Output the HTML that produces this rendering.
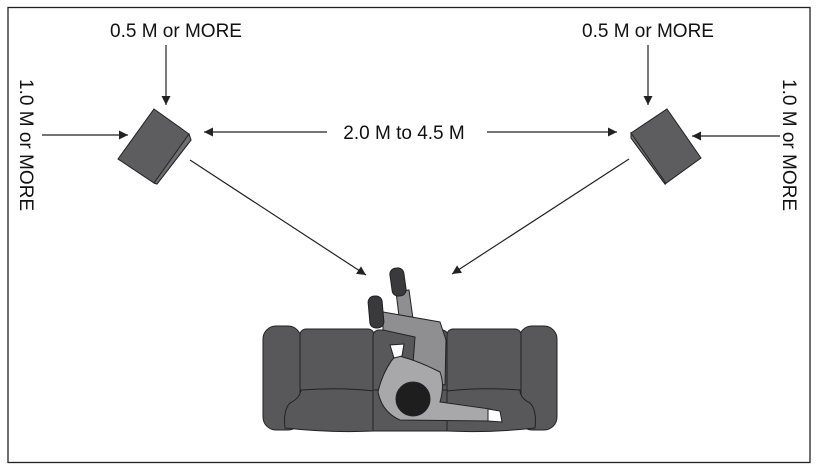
<!DOCTYPE html>
<html><head><meta charset="utf-8"><style>
html,body{margin:0;padding:0;background:#fff;}
svg{display:block;}
text{font-family:"Liberation Sans",sans-serif;font-size:19px;fill:#111;}
</style></head><body>
<svg width="817" height="473" viewBox="0 0 817 473" xmlns="http://www.w3.org/2000/svg">
<defs>
<marker id="ah" viewBox="0 0 10 10" refX="10" refY="5" markerWidth="9" markerHeight="9" markerUnits="userSpaceOnUse" orient="auto">
<path d="M0,0 L10,5 L0,10 z" fill="#222"/></marker>
</defs>
<rect x="8" y="7.5" width="802" height="455" fill="none" stroke="#222" stroke-width="1.3"/>
<text x="176" y="37" text-anchor="middle">0.5 M or MORE</text>
<text x="648" y="37" text-anchor="middle">0.5 M or MORE</text>
<text x="404" y="139" text-anchor="middle">2.0 M to 4.5 M</text>
<text transform="translate(20,145) rotate(90)" text-anchor="middle">1.0 M or MORE</text>
<text transform="translate(783,145) rotate(90)" text-anchor="middle">1.0 M or MORE</text>
<g stroke="#222" stroke-width="1.2" fill="none">
<line x1="166" y1="45" x2="166" y2="105" marker-end="url(#ah)"/>
<line x1="648" y1="45" x2="648" y2="105" marker-end="url(#ah)"/>
<line x1="42" y1="135" x2="128" y2="135" marker-end="url(#ah)"/>
<line x1="780" y1="136" x2="692" y2="136" marker-end="url(#ah)"/>
<line x1="327" y1="132" x2="204" y2="132" marker-end="url(#ah)"/>
<line x1="487" y1="132" x2="617" y2="132" marker-end="url(#ah)"/>
<line x1="190" y1="160" x2="366" y2="275" marker-end="url(#ah)"/>
<line x1="629" y1="159" x2="452" y2="274" marker-end="url(#ah)"/>
</g>
<!-- speakers -->
<g stroke="#222" stroke-width="1" fill="#5d5d60">
<polygon points="154,109 189,134 191,140 157,184 154,183 118,159"/>
<polygon points="154,183 189,134 191,140 157,184" fill="#6e6e70"/>
<polygon points="667,109 701,158 665,184 631,138 631,133"/>
<polygon points="631,133 665,182 665,184 631,138" fill="#6e6e70"/>
</g>
<!-- sofa -->
<g stroke="#222" stroke-width="1" fill="#58585a">
<rect x="263" y="326" width="38" height="104" rx="13"/>
<rect x="300" y="329" width="74" height="98" rx="6"/>
<path d="M301,390 Q340,387 374,391 L374,431 Q330,433 285,428 Q283,410 290,403 Q300,398 301,390 Z"/>
<rect x="373" y="330" width="75" height="100" rx="6"/>
<path d="M373,390 L448,390 L448,431 L373,431 Z"/>
<rect x="519" y="326" width="38" height="104" rx="13"/>
<rect x="447" y="329" width="74" height="98" rx="6"/>
<path d="M520,390 Q480,387 447,391 L447,431 Q490,433 535,428 Q537,410 530,403 Q520,398 520,390 Z"/>
</g>
<!-- person -->
<g stroke="#222" stroke-width="1">
<path d="M396,292 L409,290 L414,326 L400,324 Z" fill="#8f8f91"/>
<path d="M383,312 L440,322 L446,340 L445,385 L412,378 L415,337 L383,330 Z" fill="#8f8f91"/>
<rect x="391" y="268" width="14" height="28" rx="6" fill="#3a3a3c" transform="rotate(-8 398 282)"/>
<rect x="369" y="296" width="14" height="32" rx="6" fill="#3a3a3c" transform="rotate(-5 376 312)"/>
<path d="M396,355 Q383,370 378,392 Q382,412 400,420 L488,421 L490,409 L440,402 Q445,385 440,372 Q420,362 406,358 Z" fill="#a8a8aa"/>
<path d="M390,345 L394,358 L402,356 L404,344 Z" fill="#fff"/>
<path d="M488,409 L500,411 L502,422 L488,421 Z" fill="#fff"/>
<circle cx="413" cy="399" r="17" fill="#1e1e1e"/>
</g>
</svg>
</body></html>
